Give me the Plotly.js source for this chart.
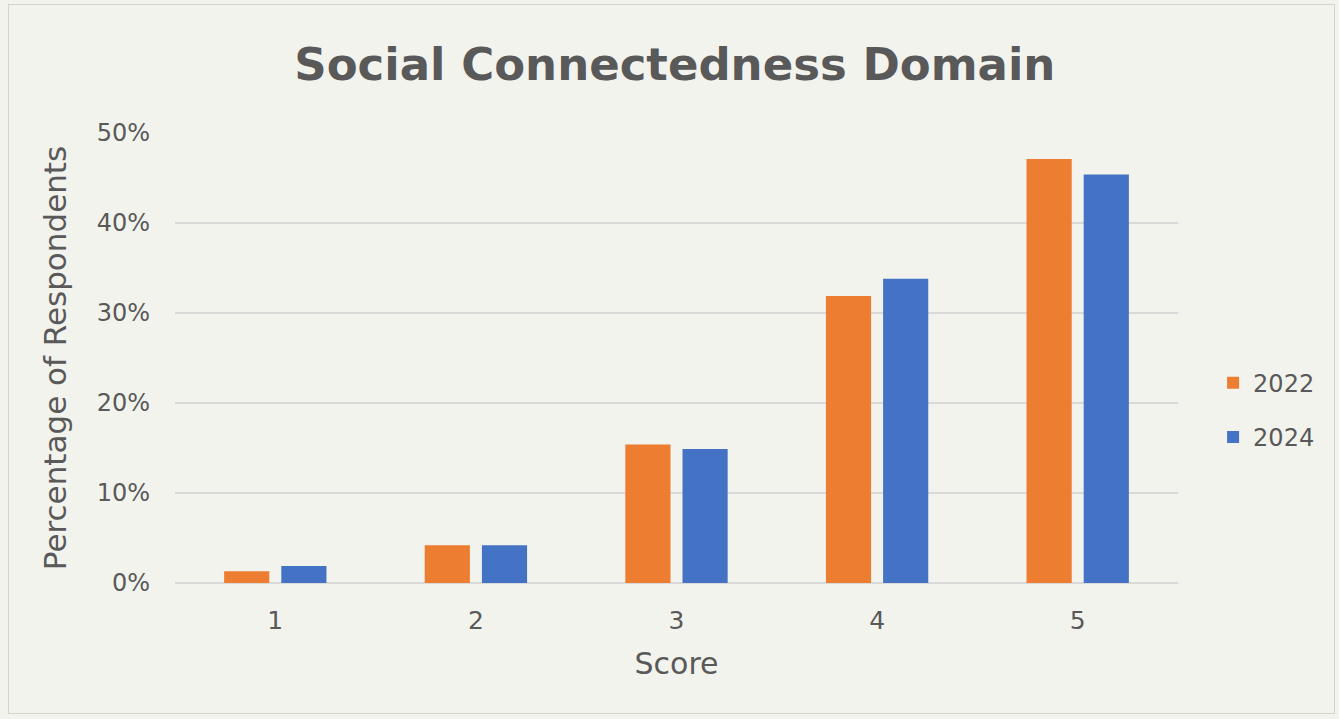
<!DOCTYPE html>
<html>
<head>
<meta charset="utf-8">
<script src="https://cdn.plot.ly/plotly-3.0.1.min.js"></script>
<style>
html,body{margin:0;padding:0;background:#f3f3ee;}
#wrap{position:absolute;left:8px;top:4px;width:1327px;height:710px;border:1.5px solid #d4d4d0;box-sizing:border-box;}
#chart{position:absolute;left:0;top:0;width:1339px;height:719px;}
</style>
</head>
<body>
<div id="wrap"></div>
<div id="chart"></div>
<script>
const categories = ["1", "2", "3", "4", "5"];
const values2022 = [0.013, 0.042, 0.154, 0.319, 0.471];
const values2024 = [0.019, 0.042, 0.149, 0.338, 0.454];
const seriesNames = ["2022", "2024"];
const tickVals = [0, 0.1, 0.2, 0.3, 0.4, 0.5];
const tickText = ["0%", "10%", "20%", "30%", "40%", "50%"];

const fontFam = "'DejaVu Sans', sans-serif";
const grayText = "#595959";

const traces = [
  {type: "bar", name: seriesNames[0], legendgroup: "g1", x: categories, y: values2022, marker: {color: "#ed7d31"}},
  {type: "bar", name: seriesNames[1], legendgroup: "g2", x: categories, y: values2024, marker: {color: "#4472c4"}}
];

const layout = {
  width: 1339, height: 719,
  paper_bgcolor: "rgba(0,0,0,0)",
  plot_bgcolor: "rgba(0,0,0,0)",
  margin: {l: 175, r: 161, t: 133, b: 136},
  barmode: "group",
  bargap: 0.43,
  bargroupgap: 0.21,
  title: {
    text: "<b>Social Connectedness Domain</b>",
    font: {family: fontFam, size: 45, color: grayText},
    x: 0.504, xanchor: "center", y: 0.911, yanchor: "middle"
  },
  xaxis: {
    type: "category",
    tickfont: {family: fontFam, size: 25, color: grayText},
    showgrid: false, zeroline: false, showline: false,
    ticks: "", ticklen: 0, ticklabelstandoff: 20,
    title: {text: "Score", font: {family: fontFam, size: 30, color: grayText}, standoff: 18}
  },
  yaxis: {
    range: [0, 0.5],
    tickvals: tickVals, ticktext: tickText,
    tickfont: {family: fontFam, size: 24, color: grayText},
    showgrid: true, gridcolor: "#d9d9d9", gridwidth: 1.5,
    zeroline: true, zerolinecolor: "#d9d9d9", zerolinewidth: 2,
    ticks: "", ticklabelstandoff: 24,
    title: {text: "Percentage of Respondents", font: {family: fontFam, size: 31, color: grayText}, standoff: 20}
  },
  legend: {
    x: 1.035, xanchor: "left", y: 0.384, yanchor: "middle",
    font: {family: fontFam, size: 24, color: grayText},
    itemwidth: 30, tracegroupgap: 20, bgcolor: "rgba(0,0,0,0)"
  },
  showlegend: true
};

Plotly.newPlot("chart", traces, layout, {displayModeBar: false, staticPlot: true});
</script>
</body>
</html>
